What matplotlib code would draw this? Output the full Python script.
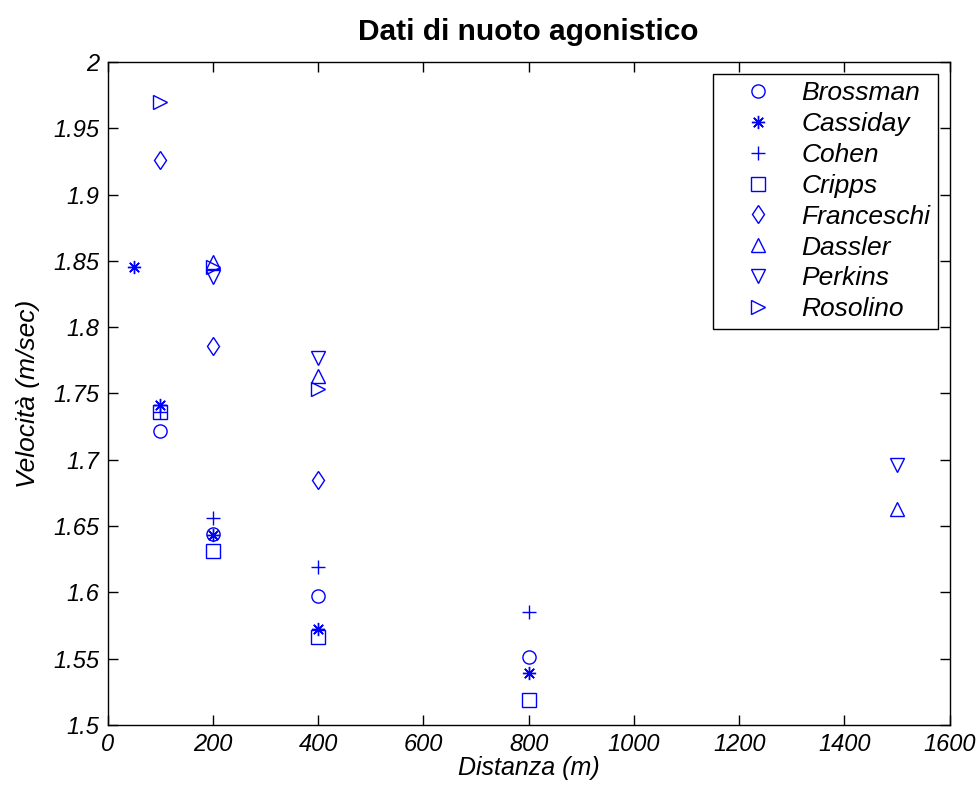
import matplotlib
matplotlib.use("Agg")
import matplotlib.pyplot as plt

plt.rcParams['font.family'] = ['Liberation Sans', 'DejaVu Sans']

# swimmers and their (distance, speed) results
nomi = ["Brossman", "Cassiday", "Cohen", "Cripps", "Franceschi", "Dassler", "Perkins", "Rosolino"]
dist = {
    "Brossman":   [100, 200, 400, 800],
    "Cassiday":   [50, 100, 200, 400, 800],
    "Cohen":      [100, 200, 400, 800],
    "Cripps":     [100, 200, 400, 800],
    "Franceschi": [100, 200, 400],
    "Dassler":    [200, 400, 1500],
    "Perkins":    [200, 400, 1500],
    "Rosolino":   [100, 200, 400],
}
vel = {
    "Brossman":   [1.722, 1.644, 1.597, 1.551],
    "Cassiday":   [1.845, 1.741, 1.643, 1.572, 1.539],
    "Cohen":      [1.736, 1.656, 1.619, 1.585],
    "Cripps":     [1.736, 1.631, 1.566, 1.519],
    "Franceschi": [1.926, 1.786, 1.685],
    "Dassler":    [1.849, 1.763, 1.663],
    "Perkins":    [1.838, 1.777, 1.696],
    "Rosolino":   [1.970, 1.845, 1.753],
}
marcatori = ["o", (8, 2, 0), "+", "s", "d", "^", "v", ">"]

fig = plt.figure(figsize=(9.8, 7.94), dpi=100)
ax = fig.add_axes([0.110, 0.087, 0.859, 0.835])

for n, m in zip(nomi, marcatori):
    ax.plot(dist[n], vel[n], linestyle="none", marker=m, markersize=9.5,
            markerfacecolor="none", markeredgecolor="#0000ff", color="#0000ff",
            markeredgewidth=1.0, label=n)

ax.set_xlim(0, 1600)
ax.set_ylim(1.5, 2.0)
ax.set_xticks(range(0, 1601, 200))
ax.set_yticks([1.5 + 0.05 * i for i in range(11)])
ax.set_yticklabels(["1.5", "1.55", "1.6", "1.65", "1.7", "1.75", "1.8", "1.85", "1.9", "1.95", "2"])
ax.tick_params(direction="in", length=7, width=1, top=True, right=True,
               labelsize=17, pad=6)
for lab in ax.get_xticklabels() + ax.get_yticklabels():
    lab.set_fontstyle("italic")
for s in ax.spines.values():
    s.set_linewidth(1)

ax.set_title("Dati di nuoto agonistico", fontsize=21.5, fontweight="bold", pad=16)
ax.set_xlabel("Distanza (m)", fontsize=18, style="italic", labelpad=0)
ax.set_ylabel("Velocità (m/sec)", fontsize=19, style="italic", labelpad=10)

leg = ax.legend(loc="upper right", prop={"style": "italic", "size": 19},
                fancybox=False, framealpha=1, edgecolor="black",
                borderpad=0.28, labelspacing=0.26, handletextpad=0.25,
                borderaxespad=0.45, handlelength=2.8)
leg.get_frame().set_linewidth(1)

fig.savefig("out.png", dpi=100, facecolor="white")
